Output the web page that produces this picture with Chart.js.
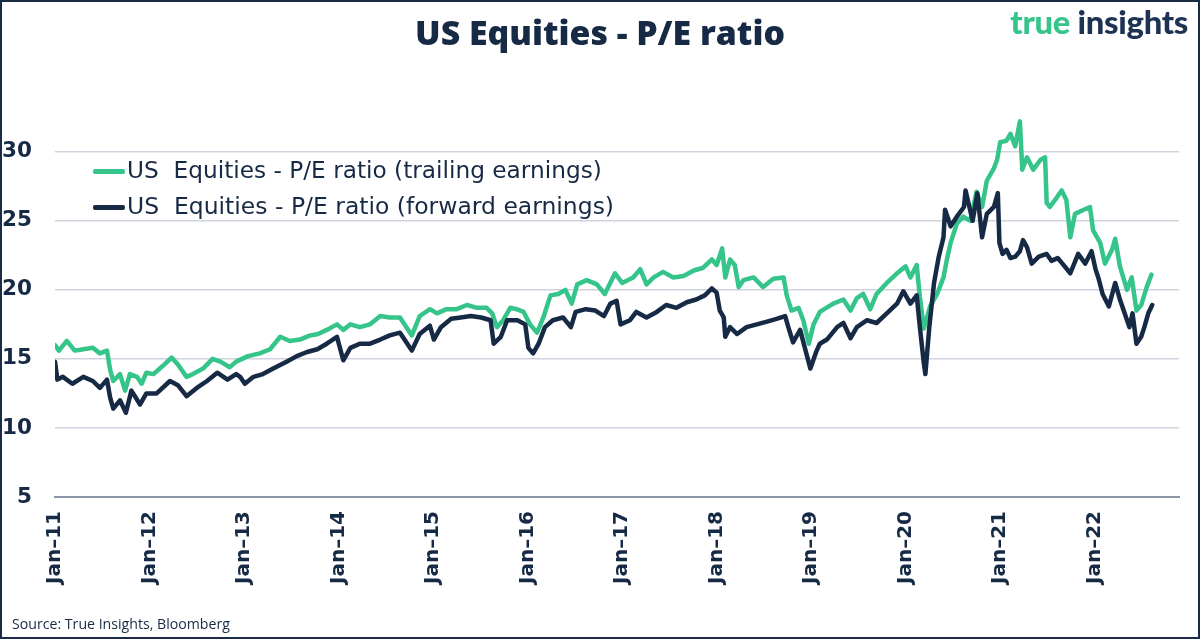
<!DOCTYPE html>
<html>
<head>
<meta charset="utf-8">
<script src="https://cdn.jsdelivr.net/npm/chart.js@4.4.1/dist/chart.umd.min.js"></script>
<style>
  html, body { margin: 0; padding: 0; background: #ffffff; }
  #wrap { position: relative; width: 1200px; height: 639px; background: #ffffff; overflow: hidden; }
  #c { position: absolute; left: 0; top: 0; }
  #frame { position: absolute; left: 0; top: 0; width: 1200px; height: 639px; box-sizing: border-box; border: 2px solid #1b2c47; pointer-events: none; }
  .fit { display: inline-block; white-space: pre; }
  #title { position: absolute; left: 0; top: 10px; width: 1200px; text-align: center; }
  #title .fit { font-family: "Open Sans", sans-serif; font-weight: 800; font-size: 32px; color: #172a45; line-height: 44px; }
  #logo { position: absolute; right: 12px; top: 3px; text-align: right; }
  #logo .fit { font-family: Lato, sans-serif; font-weight: 900; font-size: 28px; line-height: 38px; letter-spacing: -0.3px; }
  #logo .g { color: #35c489; }
  #logo .n { color: #1e3353; }
  .leg { position: absolute; left: 93px; height: 30px; }
  .leg .sw { position: absolute; left: 0; top: 14px; width: 32px; height: 4.5px; border-radius: 2px; }
  .leg .tx { position: absolute; left: 34px; top: 0; line-height: 30px; font-family: "DejaVu Sans", sans-serif; font-size: 21px; color: #172a45; }
  #source { position: absolute; left: 12px; top: 614px; }
  #source .fit { font-family: "Open Sans", sans-serif; font-size: 13.5px; color: #172a45; }
</style>
</head>
<body>
<div id="wrap">
  <canvas id="c" width="1200" height="639"></canvas>
  <div id="title"><span class="fit" data-w="370">US Equities - P/E ratio</span></div>
  <div id="logo"><span class="fit" data-w="177"><span class="g">true</span> <span class="n">insights</span></span></div>
  <div class="leg" style="top:155px"><div class="sw" style="background:#35c489"></div><span class="tx fit" data-w="475" id="leg1"></span></div>
  <div class="leg" style="top:191px"><div class="sw" style="background:#172a45"></div><span class="tx fit" data-w="487" id="leg2"></span></div>
  <div id="source"><span class="fit" data-w="218">Source: True Insights, Bloomberg</span></div>
  <div id="frame"></div>
</div>
<script>
// x values are months since Jan 2011
const tickLabels = ["Jan–11","Jan–12","Jan–13","Jan–14","Jan–15","Jan–16","Jan–17","Jan–18","Jan–19","Jan–20","Jan–21","Jan–22"];
const seriesNames = ["US  Equities - P/E ratio (trailing earnings)", "US  Equities - P/E ratio (forward earnings)"];

const trailingMonths = [0,0.5,1.5,2.5,3.6,4.8,5.7,6.6,7.0,7.4,8.25,8.9,9.5,10.4,11.0,11.6,12.5,13.7,14.8,15.6,16.7,17.5,18.8,20.0,21.0,22.2,23.0,24.5,26,27.3,28.6,29.8,31.1,32.4,33.4,34.5,35.8,36.6,37.5,38.7,40,41.3,42.5,43.8,45.3,46.3,47.6,48.5,49.7,51,52.3,53.6,54.8,55.5,56.1,56.9,57.8,58.6,59.5,60.3,61.2,62,62.9,63.9,64.8,65.6,66.3,67.5,68.8,69.8,71.1,72,73.4,74.3,75.1,76,77.2,78.5,79.8,81.1,82.3,83.4,84,84.7,85.1,85.7,86.3,86.8,87.4,88.7,89.9,91.2,92.5,92.9,93.5,94.4,95,95.7,96.3,97.1,98.8,100.1,101,101.8,102.6,103.5,104.3,105.6,106.9,108,108.6,109.4,109.8,110.3,111.1,112,112.8,113.2,113.7,114.5,115.3,116.2,117,117.7,118.3,119.2,119.6,120,120.8,121.3,121.9,122.5,122.8,123.4,124.2,125.1,125.7,125.9,126.3,127.2,127.8,128.4,128.9,129.5,130.6,131.4,131.8,132.7,133.3,134.2,134.6,135.2,136.1,136.7,137.3,137.9,138.6,139.2];
const trailingPE = [16.0,15.6,16.3,15.6,15.7,15.8,15.4,15.6,14.2,13.4,13.9,12.7,13.9,13.7,13.2,14.0,13.9,14.5,15.1,14.6,13.7,13.9,14.3,15.0,14.8,14.4,14.8,15.2,15.4,15.7,16.6,16.3,16.4,16.7,16.8,17.1,17.5,17.1,17.5,17.3,17.5,18.1,18.0,18.0,16.7,18.1,18.6,18.3,18.6,18.6,18.9,18.7,18.7,18.3,17.3,17.8,18.7,18.6,18.4,17.5,16.9,18.0,19.6,19.7,20.0,19.0,20.4,20.7,20.4,19.7,21.2,20.5,20.9,21.5,20.4,20.9,21.3,20.9,21.0,21.4,21.6,22.2,21.8,23.0,20.9,22.2,21.8,20.2,20.7,20.9,20.2,20.8,20.9,19.6,18.5,18.7,17.8,16.1,17.5,18.4,19.0,19.3,18.5,19.4,19.7,18.6,19.7,20.5,21.2,21.7,20.9,21.8,19.5,17.2,18.8,19.7,20.9,22.1,23.4,24.8,25.3,25.0,27.1,26.0,27.9,28.8,29.4,30.7,30.8,31.3,30.4,32.2,28.7,29.6,28.7,29.4,29.6,26.3,26.0,26.7,27.2,26.5,23.8,25.5,25.8,26.0,24.3,23.4,21.9,22.9,23.7,21.7,20.0,20.9,18.5,18.9,20.2,21.1];

const forwardMonths = [0,0.3,1,2.2,3.6,4.8,5.7,6.6,7.0,7.4,8.25,9.0,9.7,10.8,11.6,12.9,14.6,15.6,16.7,18,19.3,20.6,21.9,23,23.5,24.1,25.2,26.4,27.7,29.4,30.7,32,33.3,34.5,35.8,36.6,37.5,38.7,40,41.3,42.5,43.8,45.3,46.3,47.6,48.1,49,50.3,51.5,52.8,54.1,55.3,55.7,56.6,57.4,58.7,59.7,60.1,60.7,61.4,62.2,63.2,64.5,65.5,66.1,67.4,68.6,69.7,70.5,71.3,71.8,73,73.8,75.1,76.4,77.6,78.9,80.2,81.4,82.5,83.4,84,84.4,84.9,85.1,85.7,86.6,87.8,89.1,90.4,91.6,92.7,93.1,93.7,94.6,95.2,95.9,96.7,97.1,98,99.3,100.1,101,101.8,103.1,104.3,105.6,106.9,107.7,108.6,109.4,109.8,110.3,110.5,111,111.6,112.2,112.8,113,113.7,114.5,115.4,115.6,116.5,117.1,117.7,118.3,119.2,119.7,119.9,120.3,120.8,121.3,121.9,122.5,122.9,123.4,124,124.9,125.9,126.5,127.3,127.9,128.9,129.9,130.8,131.6,132.1,132.5,133,133.8,134.6,135.2,135.8,136.4,136.8,137.3,137.9,138.3,138.8,139.3];
const forwardPE = [14.8,13.5,13.7,13.2,13.7,13.4,12.9,13.5,12.2,11.4,12.0,11.1,12.7,11.7,12.5,12.5,13.4,13.1,12.3,12.9,13.4,14.0,13.5,13.9,13.7,13.2,13.7,13.9,14.3,14.8,15.2,15.5,15.7,16.1,16.6,14.9,15.8,16.1,16.1,16.4,16.7,16.9,15.6,16.8,17.4,16.4,17.3,17.9,18.0,18.1,18.0,17.8,16.1,16.6,17.8,17.8,17.5,15.8,15.4,16.1,17.3,17.8,18.0,17.3,18.4,18.6,18.5,18.1,19.0,19.2,17.5,17.8,18.4,18.0,18.4,18.9,18.7,19.1,19.3,19.6,20.1,19.8,18.5,18.0,16.6,17.3,16.8,17.3,17.5,17.7,17.9,18.1,17.3,16.2,17.1,15.8,14.3,15.6,16.1,16.4,17.3,17.6,16.5,17.3,17.8,17.6,18.3,19.0,19.9,19.0,19.6,17.3,14.7,13.9,17.3,20.5,22.4,23.8,25.8,24.6,25.3,26.0,27.2,25.0,27.0,23.8,25.5,26.0,27.0,23.4,22.6,22.9,22.3,22.4,22.8,23.6,23.1,21.9,22.4,22.6,22.1,22.3,21.9,21.2,22.6,21.9,22.8,21.5,20.8,19.7,18.8,20.5,19.3,18.3,17.3,18.3,16.1,16.6,17.3,18.3,18.9];

const GREEN = "#35c489";
const NAVY = "#172a45";

document.getElementById("leg1").textContent = seriesNames[0];
document.getElementById("leg2").textContent = seriesNames[1];

function fitAll() {
  document.querySelectorAll(".fit").forEach(el => {
    const target = parseFloat(el.dataset.w);
    const fs = parseFloat(getComputedStyle(el).fontSize);
    const w = el.getBoundingClientRect().width;
    if (w > 0) el.style.fontSize = (fs * target / w).toFixed(2) + "px";
  });
}
fitAll();

const toXY = (xs, ys) => xs.map((x, i) => ({ x: x, y: ys[i] }));

new Chart(document.getElementById("c"), {
  type: "line",
  data: {
    datasets: [
      { label: seriesNames[0], data: toXY(trailingMonths, trailingPE), borderColor: GREEN, backgroundColor: GREEN, borderWidth: 4.5, pointRadius: 0, tension: 0, borderJoinStyle: "round", borderCapStyle: "round", order: 2 },
      { label: seriesNames[1], data: toXY(forwardMonths, forwardPE), borderColor: NAVY, backgroundColor: NAVY, borderWidth: 4.5, pointRadius: 0, tension: 0, borderJoinStyle: "round", borderCapStyle: "round", order: 1 }
    ]
  },
  options: {
    responsive: false,
    animation: false,
    events: [],
    layout: { padding: { top: 96.5, right: 21, left: 0, bottom: 0 } },
    plugins: { legend: { display: false }, tooltip: { enabled: false }, title: { display: false } },
    scales: {
      x: {
        type: "linear",
        min: 0,
        max: 142.7,
        afterFit: (s) => { s.height = 142; },
        afterBuildTicks: (s) => { s.ticks = tickLabels.map((_, i) => ({ value: i * 12 })); },
        grid: { display: false, drawTicks: false },
        border: { display: true, color: "#8a95a5", width: 2 },
        ticks: {
          autoSkip: false,
          maxRotation: 90,
          minRotation: 90,
          padding: 14,
          color: NAVY,
          font: { family: "'DejaVu Sans', sans-serif", weight: "bold", size: 20 },
          callback: (v) => tickLabels[Math.round(v / 12)]
        }
      },
      y: {
        min: 5,
        max: 34,
        afterFit: (s) => { s.width = 55; },
        afterBuildTicks: (s) => { s.ticks = s.ticks.filter(t => t.value % 5 === 0); },
        grid: { color: "#cfd3de", lineWidth: 1.5, drawTicks: false },
        border: { display: false },
        ticks: {
          stepSize: 5,
          padding: 23,
          color: NAVY,
          font: { family: "'DejaVu Sans', sans-serif", weight: "bold", size: 21.5 }
        }
      }
    }
  }
});
</script>
</body>
</html>
